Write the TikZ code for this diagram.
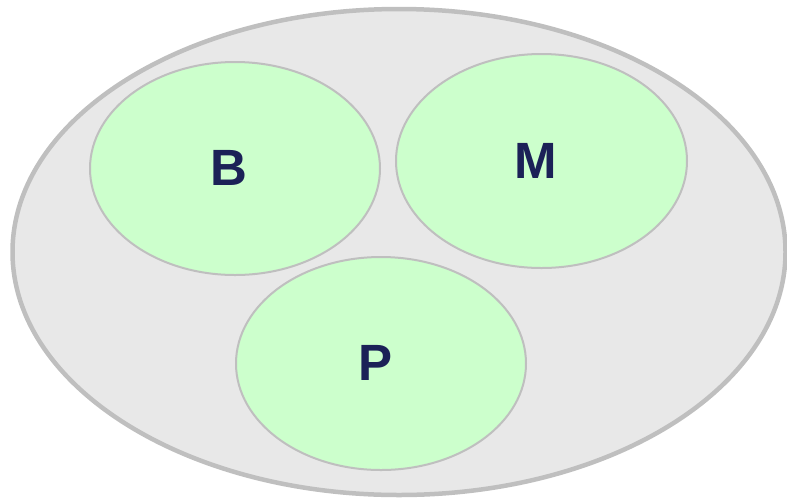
\documentclass[tikz,border=0pt]{standalone}
\usepackage{fontspec}
\setmainfont{Liberation Sans}
\definecolor{outerfill}{HTML}{E8E8E8}
\definecolor{edgegrey}{HTML}{BFBFBF}
\definecolor{greenfill}{HTML}{CCFFCC}
\definecolor{navy}{HTML}{1B2157}
\tikzset{
  outerset/.style={fill=outerfill, draw=edgegrey, line width=4.5pt},
  innerset/.style={fill=greenfill, draw=edgegrey, line width=2pt},
  setlabel/.style={text=navy, font=\fontsize{51}{51}\selectfont\bfseries, inner sep=0pt}
}
\begin{document}
\begin{tikzpicture}[x=1pt,y=-1pt]
\useasboundingbox (0,0) rectangle (787,499);
\draw[outerset] (399,252) ellipse [x radius=386.5, y radius=243];
\draw[innerset] (235,168.5) ellipse [x radius=145, y radius=106.5];
\draw[innerset] (541.5,161) ellipse [x radius=145.5, y radius=107];
\draw[innerset] (381,363.5) ellipse [x radius=145, y radius=106.5];
\node[setlabel] (B) at (229,168) {B};
\node[setlabel] (M) at (536,161) {M};
\node[setlabel] (P) at (376,363) {P};
\end{tikzpicture}
\end{document}
